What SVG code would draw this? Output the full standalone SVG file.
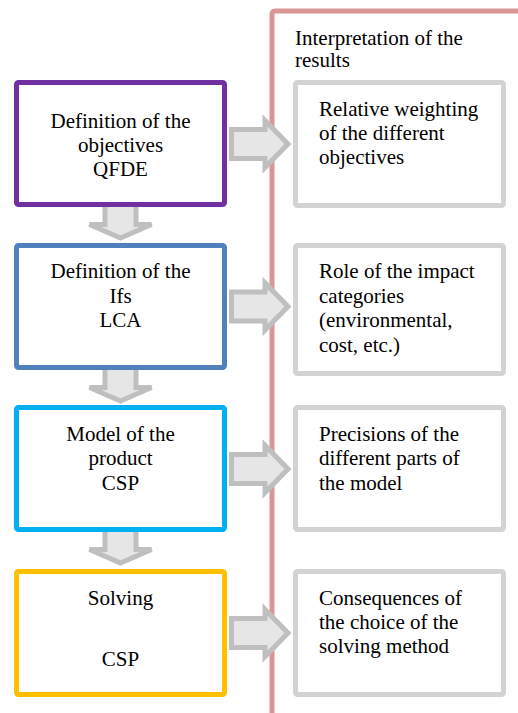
<svg xmlns="http://www.w3.org/2000/svg" width="518" height="713" viewBox="0 0 518 713">
<style>
.t{font-family:'Liberation Serif',serif;font-size:21px;fill:#000}
.c{text-anchor:middle}
.box{fill:#fff;stroke-width:5}
.rbox{fill:#fff;stroke:#d3d3d3;stroke-width:5}
.arr{fill:#e6e6e6;stroke:#bfbfbf;stroke-width:5;stroke-linejoin:miter}
</style>
<defs>
<path id="ra" class="arr" d="M231.5,-14.5 H265 V-23.5 L288,0 L265,23.5 V14.5 H231.5 Z"/>
<path id="da" class="arr" d="M105,-3 V17.5 H89.5 L120.5,31 L151.5,17.5 H136 V-3 Z"/>
</defs>
<rect x="272" y="11" width="262" height="710" rx="3" fill="none" stroke="#d99694" stroke-width="5"/>
<g class="t" font-family="Liberation Serif, serif">
<text x="295" y="45">Interpretation of the</text>
<text x="295" y="67">results</text>
</g>
<g id="connectors">
<use href="#ra" transform="translate(0,144)"/>
<use href="#ra" transform="translate(0,306.5)"/>
<use href="#ra" transform="translate(0,469)"/>
<use href="#ra" transform="translate(0,633)"/>
<use href="#da" transform="translate(0,207)"/>
<use href="#da" transform="translate(0,370)"/>
<use href="#da" transform="translate(0,532)"/>
</g>
<g id="step1" class="t" font-family="Liberation Serif, serif">
<rect class="box" x="16.5" y="82.5" width="208" height="122" rx="2" stroke="#7030a0"/>
<text class="c" x="120.5" y="128">Definition of the</text>
<text class="c" x="120.5" y="152">objectives</text>
<text class="c" x="120.5" y="176">QFDE</text>
</g>
<g id="step2" class="t" font-family="Liberation Serif, serif">
<rect class="box" x="16.5" y="245.5" width="208" height="122" rx="2" stroke="#4f81bd"/>
<text class="c" x="120.5" y="278">Definition of the</text>
<text class="c" x="120.5" y="302.5">Ifs</text>
<text class="c" x="120.5" y="327">LCA</text>
</g>
<g id="step3" class="t" font-family="Liberation Serif, serif">
<rect class="box" x="16.5" y="407.5" width="208" height="122" rx="2" stroke="#00b0f0"/>
<text class="c" x="120.5" y="441">Model of the</text>
<text class="c" x="120.5" y="465">product</text>
<text class="c" x="120.5" y="490">CSP</text>
</g>
<g id="step4" class="t" font-family="Liberation Serif, serif">
<rect class="box" x="16.5" y="571.5" width="208" height="123" rx="2" stroke="#ffc000"/>
<text class="c" x="120.5" y="605">Solving</text>
<text class="c" x="120.5" y="666">CSP</text>
</g>
<g id="interp1" class="t" font-family="Liberation Serif, serif">
<rect class="rbox" x="295.5" y="82.5" width="208" height="123" rx="2"/>
<text x="319" y="116">Relative weighting</text>
<text x="319" y="140">of the different</text>
<text x="319" y="164">objectives</text>
</g>
<g id="interp2" class="t" font-family="Liberation Serif, serif">
<rect class="rbox" x="295.5" y="245.5" width="208" height="128" rx="2"/>
<text x="319" y="278">Role of the impact</text>
<text x="319" y="302.5">categories</text>
<text x="319" y="327">(environmental,</text>
<text x="319" y="351.5">cost, etc.)</text>
</g>
<g id="interp3" class="t" font-family="Liberation Serif, serif">
<rect class="rbox" x="295.5" y="407.5" width="208" height="122" rx="2"/>
<text x="319" y="441">Precisions of the</text>
<text x="319" y="465">different parts of</text>
<text x="319" y="490">the model</text>
</g>
<g id="interp4" class="t" font-family="Liberation Serif, serif">
<rect class="rbox" x="295.5" y="571.5" width="208" height="123" rx="2"/>
<text x="319" y="605">Consequences of</text>
<text x="319" y="629">the choice of the</text>
<text x="319" y="653">solving method</text>
</g>
</svg>
